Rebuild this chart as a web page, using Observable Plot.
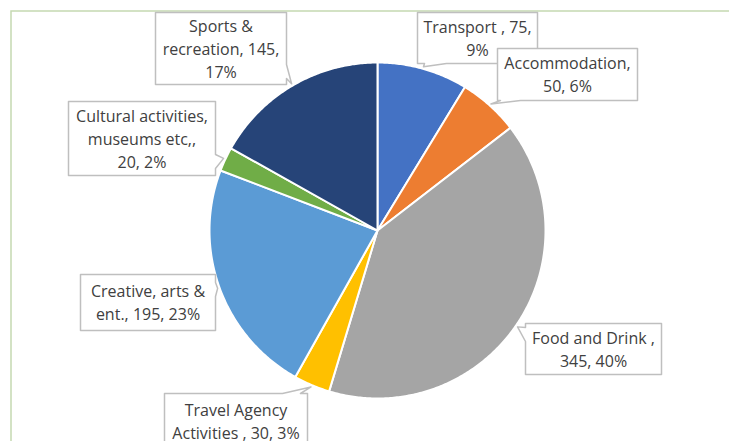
<!DOCTYPE html>
<html>
<head>
<meta charset="utf-8">
<script src="https://cdn.jsdelivr.net/npm/d3@7"></script>
<script src="https://cdn.jsdelivr.net/npm/@observablehq/plot@0.6"></script>
<style>
  html, body { margin: 0; padding: 0; background: #fff; }
  #chart svg { display: block; }
</style>
</head>
<body>
<div id="chart"></div>
<script>
// ---- data ----
const categories = ["Transport", "Accommodation", "Food and Drink", "Travel Agency Activities",
  "Creative, arts & ent.", "Cultural activities, museums etc,", "Sports & recreation"];
const values = [75, 50, 345, 30, 195, 20, 145];
const labelTexts = [
  "Transport , 75,\n9%",
  "Accommodation,\n50, 6%",
  "Food and Drink ,\n345, 40%",
  "Travel Agency\nActivities , 30, 3%",
  "Creative, arts &\nent., 195, 23%",
  "Cultural activities,\nmuseums etc,,\n20, 2%",
  "Sports &\nrecreation, 145,\n17%"
];
const colors = ["#4472C4", "#ED7D31", "#A5A5A5", "#FFC000", "#5B9BD5", "#70AD47", "#264478"];

// ---- layout (pixel space) ----
const W = 729, H = 441;
const cx = 377, cy = 230, R = 168;
// label boxes: [x1, y1, x2, y2, side of wedge, base start, base end]
const boxes = [
  [417, 12, 537, 63, "bottom", 424, 446],
  [497, 48, 637, 100, "bottom", 500, 520],
  [525, 323, 661, 374, "left", 327, 341],
  [164, 393, 307, 455, "top", 282, 300],
  [80, 274, 215, 330, "right", 282, 296],
  [68, 101, 215, 175, "right", 154, 168],
  [155, 12, 286, 84, "right", 64, 78]
];

// ---- pie geometry via d3.pie ----
const arcs = d3.pie().sort(null).value(d => d)(values);
const slicePts = [];
const tips = [];
arcs.forEach((a, i) => {
  const pts = [[cx, cy]];
  const n = Math.max(4, Math.ceil((a.endAngle - a.startAngle) / 0.01));
  for (let k = 0; k <= n; k++) {
    const t = a.startAngle + (a.endAngle - a.startAngle) * k / n;
    pts.push([cx + R * Math.sin(t), cy - R * Math.cos(t)]);
  }
  pts.push([cx, cy]);
  pts.forEach(p => slicePts.push({cat: categories[i], x: p[0], y: p[1]}));
  const m = (a.startAngle + a.endAngle) / 2;
  tips.push([cx + (R + 2) * Math.sin(m), cy - (R + 2) * Math.cos(m)]);
});

// callout polygons
const calloutPts = [];
boxes.forEach((b, i) => {
  const [x1, y1, x2, y2, side, s0, s1] = b;
  const [tx, ty] = tips[i];
  let pts;
  if (side === "bottom") pts = [[x1,y1],[x2,y1],[x2,y2],[s1,y2],[tx,ty],[s0,y2],[x1,y2],[x1,y1]];
  else if (side === "top") pts = [[x1,y1],[s0,y1],[tx,ty],[s1,y1],[x2,y1],[x2,y2],[x1,y2],[x1,y1]];
  else if (side === "left") pts = [[x1,y1],[x2,y1],[x2,y2],[x1,y2],[x1,s1],[tx,ty],[x1,s0],[x1,y1]];
  else pts = [[x1,y1],[x2,y1],[x2,s0],[tx,ty],[x2,s1],[x2,y2],[x1,y2],[x1,y1]];
  pts.forEach(p => calloutPts.push({id: i, x: p[0], y: p[1]}));
});

const labels = labelTexts.map((t, i) => ({
  text: t,
  x: (boxes[i][0] + boxes[i][2]) / 2,
  y: i === 3 ? 420 : (boxes[i][1] + boxes[i][3]) / 2 - 1
}));

const plot = Plot.plot({
  width: W, height: H,
  margin: 0,
  style: {background: "#fff", fontFamily: "'Open Sans', Lato, sans-serif"},
  x: {domain: [0, W], range: [0, W], axis: null},
  y: {domain: [0, H], range: [0, H], axis: null},
  color: {domain: categories, range: colors},
  marks: [
    Plot.rect([{}], {x1: 11, y1: 11, x2: W + 5, y2: H + 5, fill: "none", stroke: "#c5d9b1", strokeWidth: 1.5}),
    Plot.line(slicePts, {x: "x", y: "y", z: "cat", fill: "cat", stroke: "#fff", strokeWidth: 2, strokeLinejoin: "round"}),
    Plot.line(calloutPts, {x: "x", y: "y", z: "id", fill: "#fff", stroke: "#bfbfbf", strokeWidth: 1.5}),
    Plot.text(labels, {x: "x", y: "y", text: "text", fill: "#404040", fontSize: 16, lineHeight: 1.43, textAnchor: "middle"})
  ]
});
document.getElementById("chart").appendChild(plot);
</script>
</body>
</html>
